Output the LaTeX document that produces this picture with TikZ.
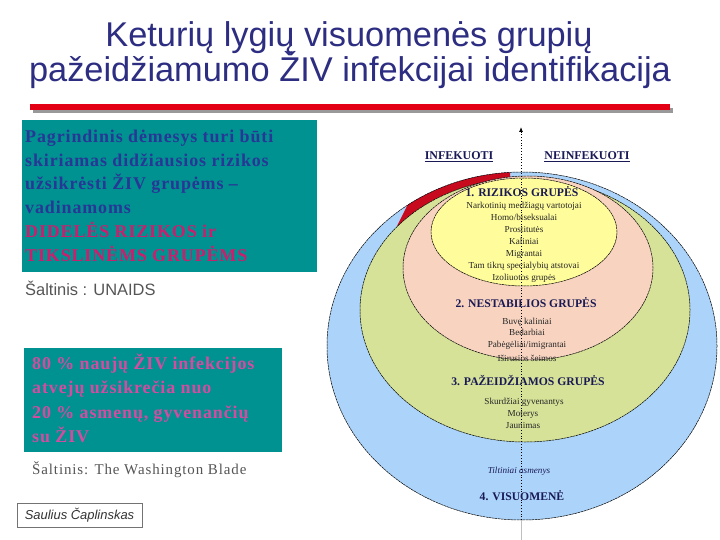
\documentclass[tikz,border=0pt]{standalone}
\usepackage{fontspec}
\setmainfont{Liberation Serif}
\setsansfont{Liberation Sans}
\usetikzlibrary{arrows.meta}
\definecolor{titleblue}{RGB}{45,45,130}
\definecolor{barred}{RGB}{228,0,20}
\definecolor{tealbox}{RGB}{0,145,145}
\definecolor{boxblue}{RGB}{40,55,150}
\definecolor{boxpink}{RGB}{205,30,110}
\definecolor{boxpinktwo}{RGB}{212,75,160}
\definecolor{srcgray}{RGB}{85,85,85}
\definecolor{bluefill}{RGB}{172,212,250}
\definecolor{greenfill}{RGB}{213,226,152}
\definecolor{peachfill}{RGB}{248,212,192}
\definecolor{yellowfill}{RGB}{255,252,155}
\definecolor{crescent}{RGB}{200,10,30}
\definecolor{navy}{RGB}{25,25,85}
\tikzset{
  titletext/.style={font=\sffamily\fontsize{34.5}{38}\selectfont, text=titleblue, anchor=base},
  boxline/.style={font=\bfseries\fontsize{18}{24}\selectfont\addfontfeature{LetterSpace=5}, anchor=base west},
  ell/.style={draw=black, line width=0.5pt, dash pattern=on 2.5pt off 0.6pt},
  grouptitle/.style={font=\bfseries\fontsize{11.7}{13}\selectfont, text=navy, anchor=base},
  item/.style={font=\fontsize{9.2}{10}\selectfont, text=black!85, anchor=base},
  side/.style={font=\bfseries\fontsize{12}{14}\selectfont, text=navy, anchor=base},
}
\begin{document}
\begin{tikzpicture}[x=1bp,y=-1bp, every node/.style={inner sep=0pt}]
\useasboundingbox (0,0) rectangle (720,540);
\fill[white] (0,0) rectangle (720,540);
% title
\node[titletext] (t1) at (349,47) {Keturių lygių visuomenės grupių};
\node[titletext] (t2) at (350,82) {pažeidžiamumo ŽIV infekcijai identifikacija};
% red bar with shadow
\fill[black!40] (33,108) rectangle (673,113);
\fill[barred] (30,104) rectangle (670,110);
% box 1
\fill[tealbox] (22,120) rectangle (317,272);
\node[boxline, text=boxblue] (b1a) at (25,143) {Pagrindinis dėmesys turi būti};
\node[boxline, text=boxblue] (b1b) at (25,167) {skiriamas didžiausios rizikos};
\node[boxline, text=boxblue] (b1c) at (25,190) {užsikrėsti ŽIV grupėms –};
\node[boxline, text=boxblue] (b1d) at (25,214) {vadinamoms};
\node[boxline, text=boxpink] (b1e) at (25,238) {DIDELĖS RIZIKOS ir};
\node[boxline, text=boxpink] (b1f) at (25,262) {TIKSLINĖMS GRUPĖMS};
\node[font=\sffamily\fontsize{16.5}{19}\selectfont, text=srcgray, anchor=base west] (s1) at (25,295) {Šaltinis : UNAIDS};
% box 2
\fill[tealbox] (24,348) rectangle (282,452);
\node[boxline, text=boxpinktwo] (b2a) at (32,369) {80 \% naujų ŽIV infekcijos};
\node[boxline, text=boxpinktwo] (b2b) at (32,393) {atvejų užsikrečia nuo};
\node[boxline, text=boxpinktwo] (b2c) at (32,418) {20 \% asmenų, gyvenančių};
\node[boxline, text=boxpinktwo] (b2d) at (32,442) {su ŽIV};
\node[font=\fontsize{15}{17}\selectfont\addfontfeature{LetterSpace=6}, text=srcgray, anchor=base west] (s2) at (32,474) {Šaltinis: The Washington Blade};
% author
\node[draw=black!55, line width=0.8pt, minimum width=125bp, minimum height=24bp, font=\sffamily\itshape\fontsize{13}{15}\selectfont, text=black!80] (auth) at (79.5,515) {Saulius Čaplinskas};
% ellipses
\fill[bluefill] (522,346) ellipse [x radius=195bp, y radius=174bp];
\begin{scope}
  \clip (397,226) -- (408,204) -- (510,140) -- (510,240) -- cycle;
  \fill[crescent] (522,346) ellipse [x radius=195bp, y radius=174bp];
\end{scope}
\draw[ell] (522,346) ellipse [x radius=195bp, y radius=174bp];
\filldraw[ell, fill=greenfill] (525,310) ellipse [x radius=165bp, y radius=132bp];
\filldraw[ell, fill=peachfill] (528,268) ellipse [x radius=125bp, y radius=92bp];
\filldraw[ell, fill=yellowfill] (524,232) ellipse [x radius=93bp, y radius=54bp];
% axis
\coordinate (axb) at (521,520);
\coordinate (axe) at (521,540);
\coordinate (axt) at (521,127);
\draw[black!25, line width=0.8pt] (axb) -- (axe);
\draw[dotted, line width=0.8pt, -{Latex[length=5bp,width=4bp]}] (axb) -- (axt);
% side labels
\node[side] (inf) at (459,160) {\underline{INFEKUOTI}};
\node[side] (ninf) at (587,160) {\underline{NEINFEKUOTI}};
% group 1
\node[grouptitle] (g1) at (522,197) {1. RIZIKOS GRUPĖS};
\node[item] (g1a) at (524,209) {Narkotinių medžiagų vartotojai};
\node[item] (g1b) at (524,221) {Homo/biseksualai};
\node[item] (g1c) at (524,233) {Prostitutės};
\node[item] (g1d) at (524,245) {Kaliniai};
\node[item] (g1e) at (524,257) {Migrantai};
\node[item] (g1f) at (524,269) {Tam tikrų specialybių atstovai};
\node[item] (g1g) at (524,281) {Izoliuotos grupės};
% group 2
\node[grouptitle] (g2) at (526,307) {2. NESTABILIOS GRUPĖS};
\node[item] (g2a) at (527,324) {Buvę kaliniai};
\node[item] (g2b) at (527,335) {Bedarbiai};
\node[item] (g2c) at (527,347) {Pabėgėliai/imigrantai};
\node[item] (g2d) at (527,361) {Iširusios šeimos};
% group 3
\node[grouptitle] (g3) at (528,385) {3. PAŽEIDŽIAMOS GRUPĖS};
\node[item] (g3a) at (524,404) {Skurdžiai gyvenantys};
\node[item] (g3b) at (523,416) {Moterys};
\node[item] (g3c) at (523,428) {Jaunimas};
% group 4
\node[item, font=\itshape\fontsize{9.2}{10}\selectfont, text=navy] (g4a) at (519,473) {Tiltiniai asmenys};
\node[grouptitle] (g4) at (522,500) {4. VISUOMENĖ};
\end{tikzpicture}
\end{document}
